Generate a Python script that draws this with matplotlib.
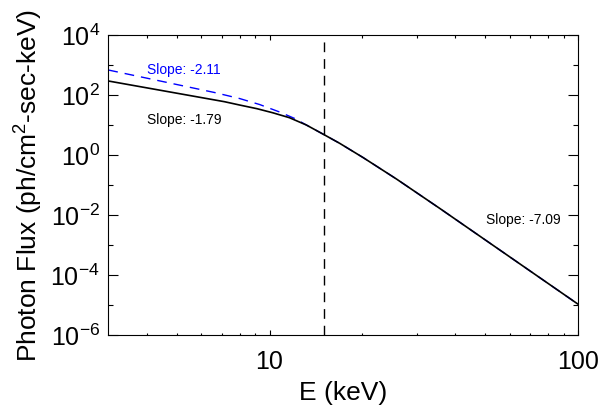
import matplotlib
matplotlib.use("Agg")
import matplotlib.pyplot as plt

plt.rcParams["font.family"] = ["Liberation Sans", "DejaVu Sans"]
plt.rcParams["mathtext.fontset"] = "custom"
plt.rcParams["mathtext.rm"] = "Liberation Sans"
plt.rcParams["mathtext.it"] = "Liberation Sans:italic"

# values
energy_black = [3.0, 7.14, 7.99, 9.1, 10.25, 11.6, 13.16, 15.09, 16.88,
                20.09, 25.8, 35.6, 100.0]
flux_black = [293, 59.8, 46.4, 35.0, 25.5, 17.5, 10.0, 4.64, 2.45,
              0.825, 0.158, 0.0167, 1.07e-5]

energy_blue = [3.0, 6.63, 7.99, 9.28, 10.78, 12.06, 13.16, 15.09, 16.88,
               20.09, 25.8, 35.6, 100.0]
flux_blue = [681, 121, 76.4, 48.2, 27.1, 16.5, 10.0, 4.64, 2.45,
             0.825, 0.158, 0.0167, 1.07e-5]

break_energy = 15.0

slope_texts = ["Slope: -2.11", "Slope: -1.79", "Slope: -7.09"]
slope_pos = [(4.0, 700), (4.0, 14.7), (50.2, 6.8e-3)]
slope_colors = ["blue", "black", "black"]

ytick_vals = [1e-6, 1e-4, 1e-2, 1e0, 1e2, 1e4]
ytick_labels = [r"$\mathregular{10^{-6}}$", r"$\mathregular{10^{-4}}$",
                r"$\mathregular{10^{-2}}$", r"$\mathregular{10^{0}}$",
                r"$\mathregular{10^{2}}$", r"$\mathregular{10^{4}}$"]
yminor_vals = [1e-5, 1e-3, 1e-1, 1e1, 1e3]

fig = plt.figure(figsize=(6.03, 4.05), dpi=100)
ax = fig.add_axes([0.1796, 0.1728, 0.7789, 0.7408])

ax.plot(energy_blue, flux_blue, color="blue", lw=1.0, dashes=(7, 5))
ax.plot(energy_black, flux_black, color="black", lw=1.2)
ax.axvline(break_energy, color="black", lw=1.0, dashes=(7, 5))

ax.set_xscale("log")
ax.set_yscale("log")
ax.set_xlim(3, 100)
ax.set_ylim(1e-6, 1e4)

ax.set_xticks([10, 100])
ax.set_xticklabels(["10", "100"])
ax.set_xticks([4, 5, 6, 7, 8, 9, 20, 30, 40, 50, 60, 70, 80, 90], minor=True)
ax.set_xticklabels([], minor=True)
ax.set_yticks(ytick_vals)
ax.set_yticklabels(ytick_labels)
ax.set_yticks(yminor_vals, minor=True)
ax.set_yticklabels([], minor=True)

ax.tick_params(axis="both", which="both", direction="in", top=True, right=True,
               width=0.8, labelsize=18)
ax.tick_params(axis="x", which="major", length=3.6, pad=11)
ax.tick_params(axis="x", which="minor", length=1.8)
ax.tick_params(axis="y", which="major", length=7.2, pad=6)
ax.tick_params(axis="y", which="minor", length=3.6)
for s in ax.spines.values():
    s.set_linewidth(0.8)

for t, (x, y), c in zip(slope_texts, slope_pos, slope_colors):
    ax.text(x, y, t, color=c, fontsize=10, va="center", ha="left")

ax.set_xlabel("E (keV)", fontsize=19, labelpad=5)
ax.set_ylabel(r"Photon Flux (ph/cm$^\mathregular{2}$-sec-keV)", fontsize=19,
              labelpad=4)

fig.savefig("out.png", dpi=100)
